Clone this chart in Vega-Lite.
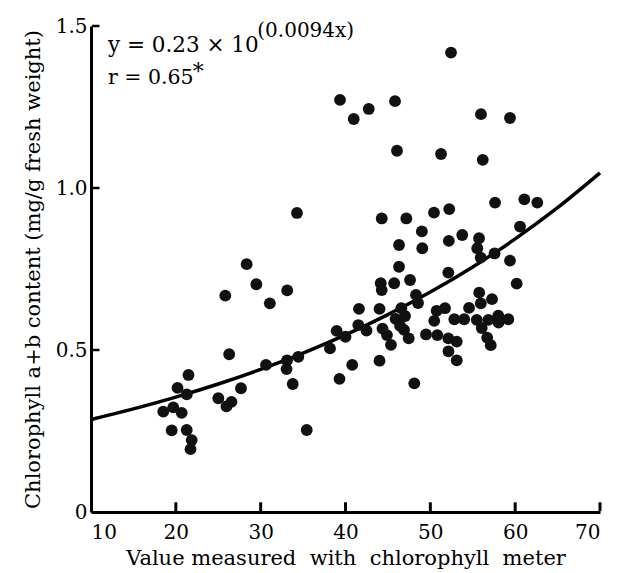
{
  "$schema": "https://vega.github.io/schema/vega-lite/v6.json",
  "autosize": "none",
  "width": 509,
  "height": 486,
  "padding": {"left": 91, "top": 26, "right": 17, "bottom": 61},
  "background": "white",
  "config": {
    "view": {"stroke": null},
    "font": "DejaVu Serif",
    "axis": {
      "domainColor": "black",
      "domainWidth": 3,
      "ticks": false,
      "grid": false,
      "labelFont": "DejaVu Serif",
      "labelFontSize": 20,
      "labelColor": "black",
      "titleFont": "DejaVu Serif",
      "titleFontSize": 21,
      "titleFontWeight": "normal",
      "titleColor": "black"
    }
  },
  "datasets": {
    "points": [
      {"x": 52.44, "y": 1.418}, {"x": 39.35, "y": 1.272}, {"x": 40.97, "y": 1.213}, {"x": 42.74, "y": 1.244},
      {"x": 45.84, "y": 1.268}, {"x": 55.97, "y": 1.228}, {"x": 59.39, "y": 1.216}, {"x": 46.07, "y": 1.115},
      {"x": 51.26, "y": 1.105}, {"x": 56.18, "y": 1.087}, {"x": 34.28, "y": 0.923}, {"x": 57.63, "y": 0.955},
      {"x": 61.08, "y": 0.965}, {"x": 62.61, "y": 0.955}, {"x": 44.27, "y": 0.906}, {"x": 47.17, "y": 0.906},
      {"x": 50.43, "y": 0.924}, {"x": 52.23, "y": 0.935}, {"x": 49.0, "y": 0.866}, {"x": 46.31, "y": 0.824},
      {"x": 49.05, "y": 0.814}, {"x": 52.18, "y": 0.837}, {"x": 53.76, "y": 0.855}, {"x": 55.74, "y": 0.845},
      {"x": 55.53, "y": 0.814}, {"x": 60.57, "y": 0.881}, {"x": 57.57, "y": 0.798}, {"x": 59.39, "y": 0.776},
      {"x": 55.94, "y": 0.785}, {"x": 28.35, "y": 0.765}, {"x": 29.49, "y": 0.703}, {"x": 25.83, "y": 0.668},
      {"x": 33.13, "y": 0.684}, {"x": 31.08, "y": 0.644}, {"x": 46.31, "y": 0.757}, {"x": 47.61, "y": 0.716},
      {"x": 44.15, "y": 0.706}, {"x": 45.74, "y": 0.706}, {"x": 44.27, "y": 0.685}, {"x": 52.12, "y": 0.739},
      {"x": 60.18, "y": 0.705}, {"x": 48.31, "y": 0.67}, {"x": 48.55, "y": 0.645}, {"x": 41.59, "y": 0.627},
      {"x": 44.01, "y": 0.627}, {"x": 46.58, "y": 0.629}, {"x": 47.02, "y": 0.605}, {"x": 45.9, "y": 0.596},
      {"x": 55.76, "y": 0.677}, {"x": 57.27, "y": 0.657}, {"x": 55.95, "y": 0.644}, {"x": 54.56, "y": 0.63},
      {"x": 50.75, "y": 0.621}, {"x": 51.73, "y": 0.629}, {"x": 50.46, "y": 0.59}, {"x": 52.83, "y": 0.595},
      {"x": 53.99, "y": 0.595}, {"x": 55.47, "y": 0.593}, {"x": 56.84, "y": 0.593}, {"x": 58.01, "y": 0.606},
      {"x": 59.19, "y": 0.595}, {"x": 58.04, "y": 0.585}, {"x": 56.06, "y": 0.568}, {"x": 41.51, "y": 0.577},
      {"x": 42.48, "y": 0.56}, {"x": 44.36, "y": 0.566}, {"x": 44.89, "y": 0.546}, {"x": 46.43, "y": 0.575},
      {"x": 46.9, "y": 0.562}, {"x": 47.45, "y": 0.536}, {"x": 45.36, "y": 0.516}, {"x": 40.0, "y": 0.541},
      {"x": 38.96, "y": 0.559}, {"x": 49.49, "y": 0.548}, {"x": 50.82, "y": 0.546}, {"x": 52.12, "y": 0.536},
      {"x": 53.11, "y": 0.526}, {"x": 56.7, "y": 0.538}, {"x": 57.12, "y": 0.515}, {"x": 52.14, "y": 0.496},
      {"x": 53.11, "y": 0.468}, {"x": 40.79, "y": 0.454}, {"x": 44.01, "y": 0.467}, {"x": 38.17, "y": 0.505},
      {"x": 48.11, "y": 0.397}, {"x": 39.29, "y": 0.411}, {"x": 26.29, "y": 0.487}, {"x": 30.63, "y": 0.454},
      {"x": 33.11, "y": 0.468}, {"x": 33.05, "y": 0.441}, {"x": 34.44, "y": 0.479}, {"x": 33.78, "y": 0.395},
      {"x": 35.43, "y": 0.253}, {"x": 21.49, "y": 0.423}, {"x": 20.2, "y": 0.383}, {"x": 21.29, "y": 0.363},
      {"x": 18.52, "y": 0.31}, {"x": 19.7, "y": 0.323}, {"x": 20.69, "y": 0.306}, {"x": 25.01, "y": 0.351},
      {"x": 25.97, "y": 0.326}, {"x": 26.56, "y": 0.34}, {"x": 27.68, "y": 0.382}, {"x": 19.51, "y": 0.252},
      {"x": 21.28, "y": 0.253}, {"x": 21.87, "y": 0.222}, {"x": 21.73, "y": 0.194}
    ],
    "curve": [
      {"x": 10, "y": 0.2856}, {"x": 15, "y": 0.3182}, {"x": 20, "y": 0.3546}, {"x": 25, "y": 0.3951},
      {"x": 30, "y": 0.4403}, {"x": 35, "y": 0.4906}, {"x": 40, "y": 0.5467}, {"x": 45, "y": 0.6092},
      {"x": 50, "y": 0.6788}, {"x": 55, "y": 0.7564}, {"x": 60, "y": 0.8428}, {"x": 65, "y": 0.9391},
      {"x": 70, "y": 1.0465}
    ],
    "xticks": [{"v": 20}, {"v": 30}, {"v": 40}, {"v": 50}, {"v": 60}, {"v": 70}],
    "yticks": [{"v": 0.5}, {"v": 1.0}, {"v": 1.5}]
  },
  "layer": [
    {
      "data": {"name": "curve"},
      "mark": {"type": "line", "color": "black", "strokeWidth": 3.5, "interpolate": "monotone"},
      "encoding": {
        "x": {
          "field": "x", "type": "quantitative",
          "scale": {"domain": [10, 70], "nice": false, "zero": false, "padding": 0},
          "axis": {"values": [10, 20, 30, 40, 50, 60, 70], "title": "Value measured\u00a0 with\u00a0 chlorophyll\u00a0 meter", "labelPadding": 10, "titlePadding": 5}
        },
        "y": {
          "field": "y", "type": "quantitative",
          "scale": {"domain": [0, 1.5], "nice": false, "padding": 0},
          "axis": {"values": [0, 0.5, 1, 1.5], "labelExpr": "datum.value == 0 ? '0' : format(datum.value, '.1f')", "title": "Chlorophyll a+b content (mg/g fresh weight)", "labelPadding": 4, "titlePadding": 12}
        }
      }
    },
    {
      "data": {"name": "points"},
      "mark": {"type": "circle", "color": "#111111", "opacity": 1, "size": 140},
      "encoding": {
        "x": {"field": "x", "type": "quantitative"},
        "y": {"field": "y", "type": "quantitative"}
      }
    },
    {
      "data": {"name": "xticks"},
      "mark": {"type": "rule", "color": "black", "strokeWidth": 3, "strokeCap": "butt", "clip": false},
      "encoding": {
        "x": {"field": "v", "type": "quantitative"},
        "y": {"datum": 0.003},
        "y2": {"datum": 0.03}
      }
    },
    {
      "data": {"name": "yticks"},
      "mark": {"type": "rule", "color": "black", "strokeWidth": 2.5, "strokeCap": "butt", "clip": false},
      "encoding": {
        "y": {"field": "v", "type": "quantitative"},
        "x": {"datum": 10.1},
        "x2": {"datum": 11.0}
      }
    },
    {
      "data": {"values": [{"t": "y = 0.23 × 10"}]},
      "mark": {"type": "text", "align": "left", "baseline": "alphabetic", "fontSize": 21.5, "font": "DejaVu Serif", "color": "black"},
      "encoding": {"x": {"datum": 12.0}, "y": {"datum": 1.42}, "text": {"field": "t"}}
    },
    {
      "data": {"values": [{"t": "(0.0094x)"}]},
      "mark": {"type": "text", "align": "left", "baseline": "alphabetic", "fontSize": 20, "font": "DejaVu Serif", "color": "black", "clip": false},
      "encoding": {"x": {"datum": 29.6}, "y": {"datum": 1.466}, "text": {"field": "t"}}
    },
    {
      "data": {"values": [{"t": "r = 0.65"}]},
      "mark": {"type": "text", "align": "left", "baseline": "alphabetic", "fontSize": 20.5, "font": "DejaVu Serif", "color": "black"},
      "encoding": {"x": {"datum": 12.0}, "y": {"datum": 1.321}, "text": {"field": "t"}}
    },
    {
      "data": {"values": [{"t": "*"}]},
      "mark": {"type": "text", "align": "left", "baseline": "alphabetic", "fontSize": 22, "font": "DejaVu Serif", "color": "black"},
      "encoding": {"x": {"datum": 22.0}, "y": {"datum": 1.336}, "text": {"field": "t"}}
    }
  ]
}
